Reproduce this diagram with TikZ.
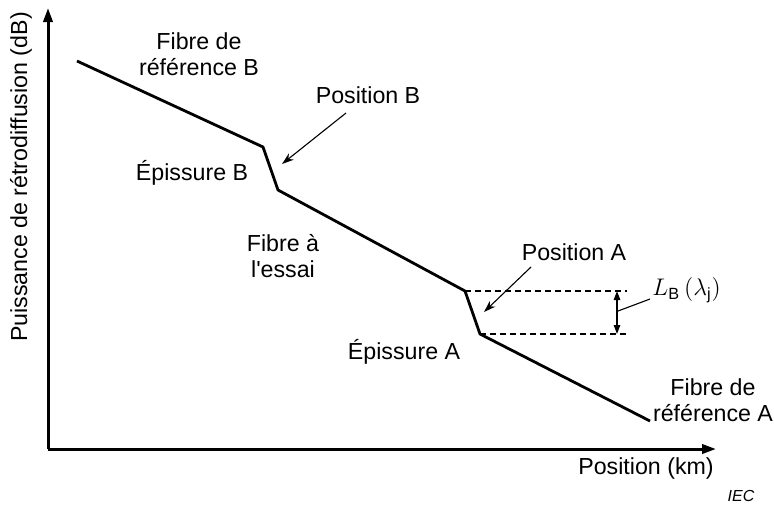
\documentclass[tikz,border=0pt]{standalone}
\usepackage{fontspec}
\setmainfont{Liberation Sans}
\usetikzlibrary{arrows.meta}

\begin{document}
\begin{tikzpicture}[x=0.5pt, y=-0.5pt,
    every node/.style={font=\fontsize{11.6}{12.8}\selectfont, inner sep=0pt, align=center},
    axis/.style={line width=1.5pt, -{Triangle[length=7pt, width=4.6pt]}},
    trace/.style={line width=1.4pt, line join=miter},
    pointer/.style={line width=0.55pt, -{Stealth[length=6pt, width=4pt]}},
    level/.style={line width=0.8pt, dash pattern=on 3pt off 2pt}]
    \useasboundingbox (0,0) rectangle (774,505);

    % Axes.
    \coordinate (O) at (48,449);
    \coordinate (Y) at (48,8);
    \coordinate (X) at (716,449);
    \draw[axis] (O) -- (Y);
    \draw[axis] (O) -- (X);
    \node[rotate=90] (ylab) at (21,177) {Puissance de rétrodiffusion (dB)};
    \node (xlab) at (646,468) {Position (km)};
    \node[font=\fontsize{8}{9}\selectfont\itshape] (iec) at (741,496) {IEC};

    % Backscatter trace.
    \coordinate (T-1) at (77,61);
    \coordinate (T-2) at (263,147);
    \coordinate (T-3) at (278,190);
    \coordinate (T-4) at (465,291);
    \coordinate (T-5) at (480,334);
    \coordinate (T-6) at (650,421);
    \draw[trace] (T-1) -- (T-2) -- (T-3) -- (T-4) -- (T-5) -- (T-6);

    % Labels.
    \node (refB) at (199,54) {Fibre de\\référence B};
    \node (spliceB) at (192,173) {Épissure B};
    \node (dut) at (283,256) {Fibre à\\l\textquotesingle essai};
    \node (spliceA) at (404,352) {Épissure A};
    \node (refA) at (713,400) {Fibre de\\référence A};

    % Position B.
    \node (posB) at (368,95) {Position B};
    \coordinate (posB-from) at (346,113);
    \coordinate (posB-to) at (282,164);
    \draw[pointer] (posB-from) -- (posB-to);

    % Position A.
    \node (posA) at (574,252) {Position A};
    \coordinate (posA-from) at (531,267);
    \coordinate (posA-to) at (484,312);
    \draw[pointer] (posA-from) -- (posA-to);

    % Splice loss.
    \coordinate (D-1) at (627,291);
    \coordinate (D-2) at (627,334);
    \draw[level] (T-4) -- (D-1);
    \draw[level] (T-5) -- (D-2);
    \coordinate (L-1) at (617,291);
    \coordinate (L-2) at (617,334);
    \draw[line width=0.8pt, {Triangle[length=4.5pt, width=3.2pt]}-{Triangle[length=4.5pt, width=3.2pt]}] (L-1) -- (L-2);
    \node[anchor=west] (loss) at (652,290) {$L_{\mathrm{B}}\,(\lambda_{\mathrm{j}})$};
    \coordinate (loss-foot) at (618,311);
    \draw[line width=0.55pt] (loss-foot) -- (650,299);

\end{tikzpicture}
\end{document}
